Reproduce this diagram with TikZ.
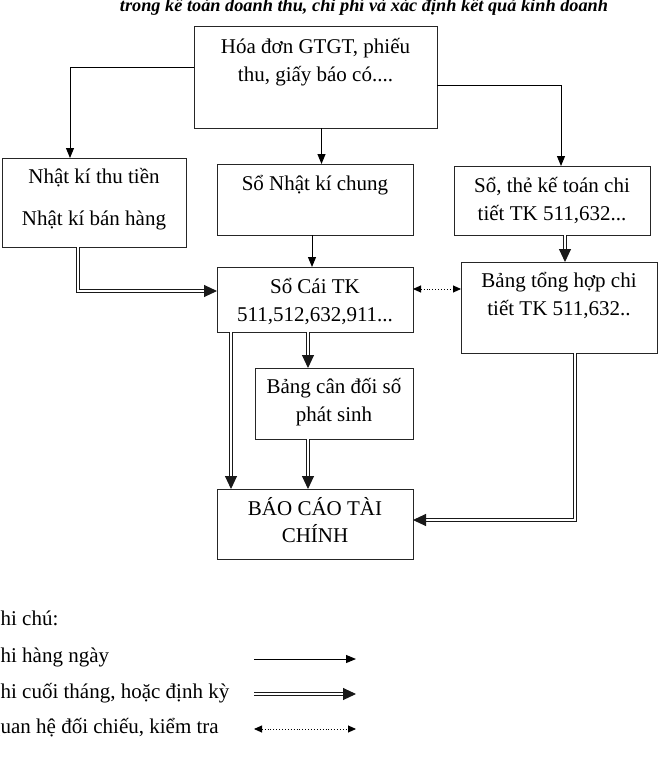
\documentclass[tikz,border=0pt]{standalone}
\usepackage{fontspec}
\setmainfont{Liberation Serif}
\usetikzlibrary{arrows.meta}
\begin{document}
\begin{tikzpicture}[x=1pt,y=-1pt,
  box/.style={draw=black!85, line width=0.9pt, inner sep=0pt, outer sep=0pt},
  txt/.style={inner sep=0pt, outer sep=0pt, align=center, anchor=north, font=\fontsize{21}{28}\selectfont},
  lbl/.style={inner sep=0pt, outer sep=0pt, anchor=base west, font=\fontsize{21}{28}\selectfont},
  arr/.style={draw=black, line width=1pt, -{Triangle[length=10pt,width=8pt]}},
  dbl/.style={draw=black!90, double=white, double distance=1.8pt, line width=1pt, -{Triangle[length=13pt,width=12pt]}},
  dotarr/.style={draw=black, line width=0.9pt, dotted, {Triangle[length=8pt,width=7pt]}-{Triangle[length=8pt,width=7pt]}}
]
\useasboundingbox (0,0) rectangle (659,779);
\clip (0,0) rectangle (659,779);

% title (partly cut at top)
\node[inner sep=0pt, anchor=base, font=\fontsize{18.3}{22}\selectfont\bfseries\itshape] (title) at (364,11) {trong kế toán doanh thu, chi phí và xác định kết quả kinh doanh};

% boxes
\node[box, minimum width=243pt, minimum height=102pt] (hd) at (315.5,77) {};
\node[box, minimum width=184pt, minimum height=89pt] (nk) at (94,202.5) {};
\node[box, minimum width=196pt, minimum height=71pt] (nkc) at (315,199.5) {};
\node[box, minimum width=196pt, minimum height=69pt] (st) at (552,200.5) {};
\node[box, minimum width=196pt, minimum height=65pt] (sc) at (315,299.5) {};
\node[box, minimum width=196pt, minimum height=91pt] (bt) at (559,307.5) {};
\node[box, minimum width=158pt, minimum height=71pt] (bc) at (334,403.5) {};
\node[box, minimum width=196pt, minimum height=70pt] (bctc) at (315,524) {};

% texts
\node[txt] (thd) at (315.5,31) {\rule{0pt}{22pt}Hóa đơn GTGT, phiếu\\thu, giấy báo có....};
\node[txt] (tnk) at (94,161) {\rule{0pt}{22pt}Nhật kí thu tiền\\[14pt]Nhật kí bán hàng};
\node[txt] (tnkc) at (315,168) {\rule{0pt}{22pt}Sổ Nhật kí chung};
\node[txt] (tst) at (552,170) {\rule{0pt}{22pt}Sổ, thẻ kế toán chi\\tiết TK 511,632...};
\node[txt] (tsc) at (315,271) {\rule{0pt}{22pt}Sổ Cái TK\\511,512,632,911...};
\node[txt] (tbt) at (559,265) {\rule{0pt}{22pt}Bảng tổng hợp chi\\tiết TK 511,632..};
\node[txt] (tbc) at (334,371) {\rule{0pt}{22pt}Bảng cân đối số\\phát sinh};
\node[txt] (tbctc) at (315,493) {\rule{0pt}{22pt}BÁO CÁO TÀI\\[-1pt]CHÍNH};

% connectors
\draw[arr] ([yshift=10pt]hd.west) -| ([xshift=-24pt]nk.north);
\draw[arr] ([xshift=6pt]hd.south) -- ([xshift=6pt]hd.south |- nkc.north);
\draw[arr] ([yshift=-8pt]hd.east) -| ([xshift=9pt]st.north);
\draw[dbl] ([xshift=-16pt]nk.south) |- ([yshift=8.5pt]sc.west);
\draw[arr] ([xshift=-3pt]nkc.south) -- ([xshift=-3pt]sc.north);
\draw[dbl] ([xshift=13pt]st.south) -- ([xshift=13pt]st.south |- bt.north);
\draw[dotarr] ([yshift=10.5pt]sc.east) -- ([yshift=10.5pt]sc.east -| bt.west);
\draw[dbl] ([xshift=-7pt]sc.south) -- ([xshift=-7pt]sc.south |- bc.north);
\draw[dbl] ([xshift=-84pt]sc.south) -- ([xshift=-84pt]sc.south |- bctc.north);
\draw[dbl] ([xshift=-26pt]bc.south) -- ([xshift=-26pt]bc.south |- bctc.north);
\draw[dbl] ([xshift=16pt]bt.south) |- ([yshift=4pt]bctc.east);

% legend
\node[lbl] (lg0) at (-14.5,625) {Ghi chú:};
\node[lbl] (lg1) at (-14.5,662) {Ghi hàng ngày};
\node[lbl] (lg2) at (-14.5,698) {Ghi cuối tháng, hoặc định kỳ};
\node[lbl] (lg3) at (-14.5,733) {Quan hệ đối chiếu, kiểm tra};
\coordinate (a1) at (254,659);
\coordinate (b1) at (356,659);
\coordinate (a2) at (254,694);
\coordinate (b2) at (356,694);
\coordinate (a3) at (254,729);
\coordinate (b3) at (356,729);
\draw[arr] (a1) -- (b1);
\draw[dbl] (a2) -- (b2);
\draw[dotarr] (a3) -- (b3);
\end{tikzpicture}
\end{document}
